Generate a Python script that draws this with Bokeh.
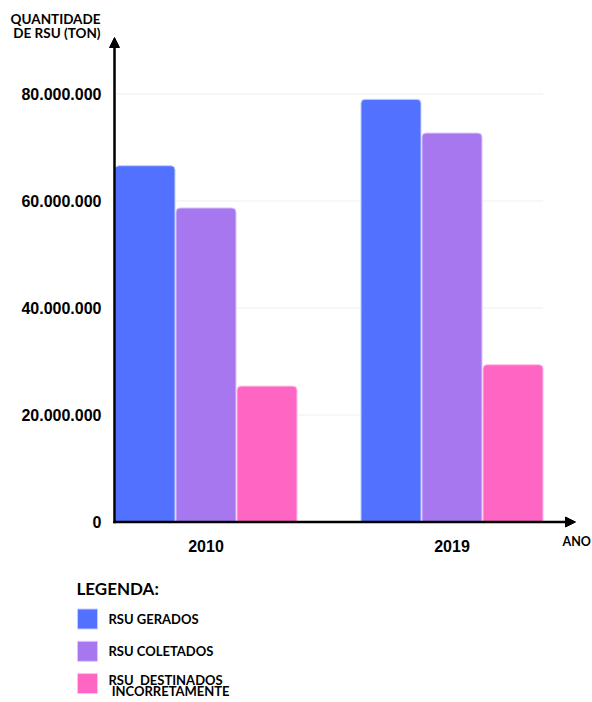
import numpy as np
from bokeh.plotting import figure
from bokeh.models import Range1d, Arrow, NormalHead, ColumnDataSource
from bokeh.core.properties import value
from bokeh.embed import file_html
from bokeh.resources import INLINE

# ---------------- data ----------------
years = ["2010", "2019"]
series = ["RSU GERADOS", "RSU COLETADOS", "RSU  DESTINADOS\n INCORRETAMENTE"]
gerados = [66_600_000, 79_000_000]
coletados = [58_700_000, 72_700_000]
incorretos = [25_400_000, 29_400_000]
y_ticks = [0, 20_000_000, 40_000_000, 60_000_000, 80_000_000]
y_tick_labels = ["0", "20.000.000", "40.000.000", "60.000.000", "80.000.000"]
colors = ["#5271ff", "#a677ef", "#ff66c4"]
edge_colors = ["#c5ceff", "#dcc8fb", "#ffc2e6"]

y_title = ["QUANTIDADE", "DE RSU (TON)"]
x_title = "ANO"
legend_title = "LEGENDA:"

TICK_FONT = "Liberation Sans"
GEO_FONT = "Lato"

# ---------------- scales ----------------
W, H = 592, 702
PX_X = 246.0            # px per category step
PX_Y = 5.35e-6          # px per ton
X0_PX, Y0_PX = 205.5, 521.5   # pixel of (first category, 0 t)
x_pos = np.arange(len(years))


def px_x(px):
    return (px - X0_PX) / PX_X


def px_y(py):
    return (Y0_PX - py) / PX_Y


p = figure(width=W, height=H, output_backend="svg", toolbar_location=None,
           x_range=Range1d(px_x(0), px_x(W)), y_range=Range1d(px_y(H), px_y(0)),
           x_axis_location=None, y_axis_location=None, min_border=0)
p.title = None
p.outline_line_color = None
p.grid.visible = False
p.extra_x_ranges = {"px": Range1d(0, W)}
p.extra_y_ranges = {"px": Range1d(H, 0)}

x_axis = px_x(114)

# gridlines (stop at the end of the last bar group)
bar_w = 0.244
step = 0.248
grid_right = x_pos[-1] + step + bar_w / 2
n_g = len(y_ticks) - 1
p.segment(x0=[x_axis] * n_g, x1=[grid_right] * n_g, y0=y_ticks[1:], y1=y_ticks[1:],
          line_color="#efefef", line_width=1.2)

# bars
for i, vals in enumerate([gerados, coletados, incorretos]):
    src = ColumnDataSource(dict(x=x_pos + (i - 1) * step, top=vals))
    p.vbar(x="x", top="top", bottom=0, width=bar_w, source=src,
           fill_color=colors[i], line_color=edge_colors[i], line_width=1,
           border_radius=(4, 4, 0, 0))

# axis arrows
p.add_layout(Arrow(end=NormalHead(size=10, fill_color="black", line_color="black"),
                   x_start=px_x(112.8), y_start=0, x_end=px_x(575), y_end=0,
                   line_width=2.5, line_color="black"))
p.add_layout(Arrow(end=NormalHead(size=10, fill_color="black", line_color="black"),
                   x_start=x_axis, y_start=px_y(522.7), x_end=x_axis, y_end=px_y(37),
                   line_width=2.5, line_color="black"))

# y tick labels
p.text(x=[px_x(101)] * len(y_ticks), y=y_ticks, text=y_tick_labels,
       text_font=value(TICK_FONT), text_font_style="bold", text_font_size="16px",
       text_color="black", text_align="right", text_baseline="middle")
# x tick labels
p.text(x=x_pos, y=[px_y(545)] * len(years), text=years,
       text_font=value(TICK_FONT), text_font_style="bold", text_font_size="16px",
       text_color="black", text_align="center", text_baseline="middle")

# axis names
p.text(x=[100] * len(y_title), y=[18.5 + 14 * k for k in range(len(y_title))],
       text=y_title, x_range_name="px", y_range_name="px",
       text_font=value(GEO_FONT), text_font_style="bold", text_font_size="13.5px",
       text_color="black", text_align="right", text_baseline="middle")
p.text(x=[562], y=[541], text=[x_title], x_range_name="px", y_range_name="px",
       text_font=value(GEO_FONT), text_font_style="bold", text_font_size="12.5px",
       text_color="black", text_align="left", text_baseline="middle")

# legend
p.text(x=[76], y=[588], text=[legend_title], x_range_name="px", y_range_name="px",
       text_font=value(GEO_FONT), text_font_style="bold", text_font_size="17px",
       text_color="black", text_align="left", text_baseline="middle")
sq_y = [618.5 + 32.3 * i for i in range(len(series))]
p.rect(x=[87] * len(series), y=sq_y, width=20, height=20,
       x_range_name="px", y_range_name="px",
       fill_color=colors, line_color=edge_colors, line_width=1)


def keep_spaces(s):
    # SVG collapses runs of spaces: keep the extra ones as no-break spaces
    s = s.replace("  ", " \u00a0")
    if s.startswith(" "):
        s = "\u00a0" + s[1:]
    return s


lab_x, lab_y, lab_t = [], [], []
for i, s in enumerate(series):
    lines = s.split("\n")
    first = sq_y[i] - 5.5 * (len(lines) - 1) + (1.5 if len(lines) > 1 else 0)
    for j, ln in enumerate(lines):
        lab_x.append(108)
        lab_y.append(first + 11 * j)
        lab_t.append(keep_spaces(ln))
p.text(x=lab_x, y=lab_y, text=lab_t, x_range_name="px", y_range_name="px",
       text_font=value(GEO_FONT), text_font_style="bold", text_font_size="13px",
       text_color="black", text_align="left", text_baseline="middle")

open("out.html", "w").write(file_html(p, INLINE))
